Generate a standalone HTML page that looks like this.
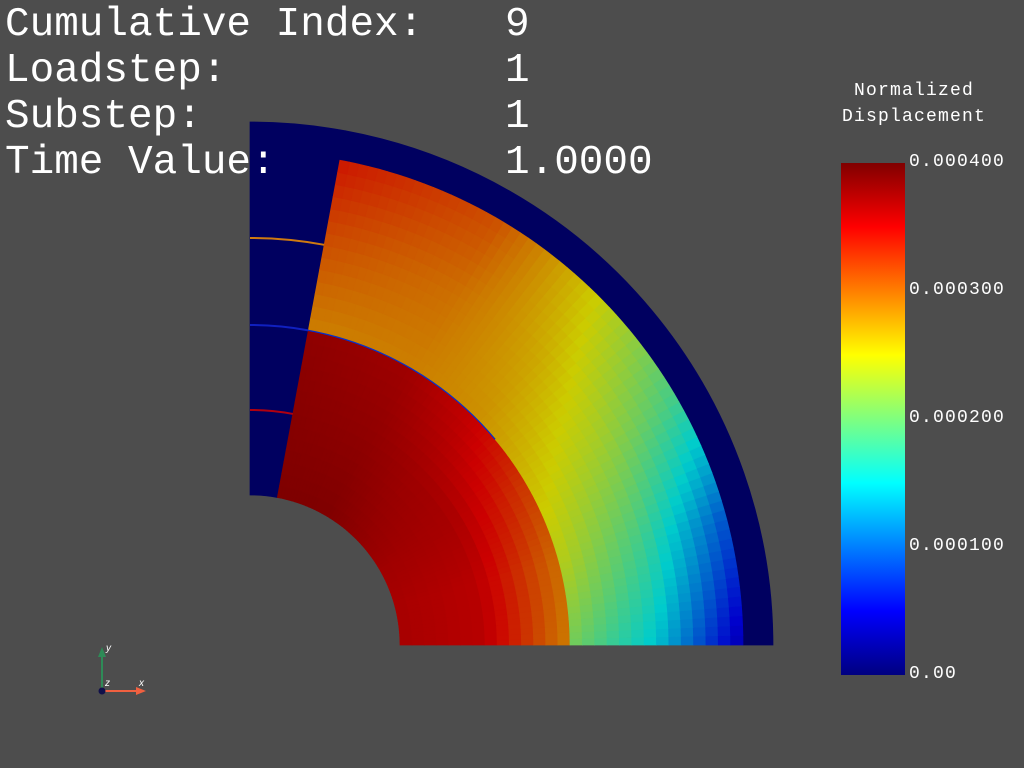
<!DOCTYPE html>
<html><head><meta charset="utf-8"><style>
html,body{margin:0;padding:0;background:#4d4d4d;width:1024px;height:768px;overflow:hidden;}
.t{position:absolute;font-family:"Liberation Mono",monospace;font-size:41px;color:#fff;line-height:1;white-space:pre;}
.l{position:absolute;font-family:"Liberation Mono",monospace;font-size:18px;letter-spacing:1.2px;color:#fff;line-height:1;white-space:pre;}
</style></head><body>
<svg id="plot" width="1024" height="768" style="position:absolute;left:0;top:0">
<g id="mesh"></g>
<g>
<line x1="102" y1="691" x2="102" y2="656" stroke="#2e8b57" stroke-width="2"/>
<polygon points="98,657 106,657 102,647" fill="#2e8b57"/>
<line x1="102" y1="691" x2="137" y2="691" stroke="#f06040" stroke-width="2"/>
<polygon points="136,687 136,695 146,691" fill="#f06040"/>
<circle cx="102" cy="691" r="3.5" fill="#10104a"/>
<text x="106" y="651" fill="#fff" font-size="10" font-style="italic" font-family="Liberation Sans,sans-serif">y</text>
<text x="105" y="686" fill="#fff" font-size="10" font-style="italic" font-family="Liberation Sans,sans-serif">z</text>
<text x="139" y="686" fill="#fff" font-size="10" font-style="italic" font-family="Liberation Sans,sans-serif">x</text>
</g>
<defs><linearGradient id="jet" x1="0" y1="1" x2="0" y2="0">
<stop offset="0" stop-color="#000080"/><stop offset="0.125" stop-color="#0000ff"/>
<stop offset="0.375" stop-color="#00ffff"/><stop offset="0.625" stop-color="#ffff00"/>
<stop offset="0.875" stop-color="#ff0000"/><stop offset="1" stop-color="#800000"/>
</linearGradient></defs>
<rect x="841" y="163" width="64" height="512" fill="url(#jet)"/>
</svg>
<div class="t" style="left:5px;top:5px">Cumulative Index:</div>
<div class="t" style="left:505px;top:5px">9</div>
<div class="t" style="left:5px;top:51px">Loadstep:</div>
<div class="t" style="left:505px;top:51px">1</div>
<div class="t" style="left:5px;top:97px">Substep:</div>
<div class="t" style="left:505px;top:97px">1</div>
<div class="t" style="left:5px;top:143px">Time Value:</div>
<div class="t" style="left:505px;top:143px">1.0000</div>
<div class="l" style="left:842px;top:78px;text-align:center;line-height:26px">Normalized
Displacement</div>
<div id="ticks"></div>
<script>
const tickLabels=["0.00","0.000100","0.000200","0.000300","0.000400"];
const tickValues=[0,0.0001,0.0002,0.0003,0.0004];
const angles=[0,15,30,45,60,80];
const innerRadii=[150,235,320];
const innerVals=[[0.92,0.92,0.93,0.95,0.97,0.97],[0.9,0.9,0.92,0.93,0.95,0.96],[0.72,0.74,0.8,0.88,0.93,0.95]];
const outerRadii=[320,407,493];
const outerVals=[[0.52,0.6,0.65,0.7,0.72,0.72],[0.36,0.45,0.57,0.67,0.74,0.78],[0.08,0.22,0.45,0.62,0.78,0.85]];
const cx=250,cy=645,outerR=523,sectorMax=79.5;
const NS="http://www.w3.org/2000/svg";
const g=document.getElementById('mesh');
function cl(x){return Math.max(0,Math.min(1,x));}
function jet(v,s){const r=cl(1.5-Math.abs(4*v-3)),gg=cl(1.5-Math.abs(4*v-2)),b=cl(1.5-Math.abs(4*v-1));
return `rgb(${Math.round(r*255*s)},${Math.round(gg*255*s)},${Math.round(b*255*s)})`;}
function interp(arr,a){for(let i=0;i<angles.length-1;i++){if(a<=angles[i+1]){const t=(a-angles[i])/(angles[i+1]-angles[i]);return arr[i]+(arr[i+1]-arr[i])*t;}}return arr[arr.length-1];}
function pt(r,a){const rad=a*Math.PI/180;return [cx+r*Math.cos(rad),cy-r*Math.sin(rad)];}
function sector(r0,r1,a0,a1,fill,name){const p=[pt(r0,a0),pt(r1,a0),pt(r1,a1),pt(r0,a1)];
const d=`M${p[0]}L${p[1]}A${r1},${r1} 0 0 0 ${p[2]}L${p[3]}A${r0},${r0} 0 0 1 ${p[0]}Z`;
const e=document.createElementNS(NS,'path');e.setAttribute('d',d);e.setAttribute('fill',fill);e.setAttribute('stroke',fill);e.setAttribute('stroke-width','0.7');


g.appendChild(e);}
sector(150,outerR,sectorMax,90,'#000060','fixed-wedge');
sector(493,outerR,0,sectorMax,'#000060','outer-ring');
const NA=70,NR=14;
function drawMaterial(radii,vals){const r0=radii[0],r2=radii[2];
for(let i=0;i<NA;i++){const a0=sectorMax*i/NA,a1=sectorMax*(i+1)/NA,am=(a0+a1)/2;
const v=vals.map(row=>interp(row,am));
for(let j=0;j<NR;j++){const ra=r0+(r2-r0)*j/NR,rb=r0+(r2-r0)*(j+1)/NR,rm=(ra+rb)/2;
let val;if(rm<=radii[1]){const t=(rm-radii[0])/(radii[1]-radii[0]);val=v[0]+(v[1]-v[0])*t;}
else{const t=(rm-radii[1])/(radii[2]-radii[1]);val=v[1]+(v[2]-v[1])*t;}
sector(ra,rb,a0,a1,jet(val,0.8),'mesh-cell');}}}
drawMaterial(innerRadii,innerVals);
drawMaterial(outerRadii,outerVals);
(function(){const p0=pt(320,sectorMax),p1=pt(320,40);const e=document.createElementNS(NS,'path');
e.setAttribute('d',`M${p0}A320,320 0 0 1 ${p1}`);e.setAttribute('fill','none');e.setAttribute('stroke','#0030d0');e.setAttribute('stroke-width','1.2');


g.appendChild(e);})();
[[407,'#d07a10'],[320,'#1020c0'],[235,'#b00010']].forEach(([r,c])=>{const p0=pt(r,90),p1=pt(r,sectorMax);
const e=document.createElementNS(NS,'path');e.setAttribute('d',`M${p0}A${r},${r} 0 0 1 ${p1}`);e.setAttribute('fill','none');e.setAttribute('stroke',c);e.setAttribute('stroke-width','2');


g.appendChild(e);});
const tk=document.getElementById('ticks');
tickLabels.forEach((lab,i)=>{const y=675-512*tickValues[i]/0.0004;const d=document.createElement('div');d.className='l';d.textContent=lab;
d.style.left='909px';d.style.top=(y-10)+'px';


tk.appendChild(d);});
</script>
</body></html>
